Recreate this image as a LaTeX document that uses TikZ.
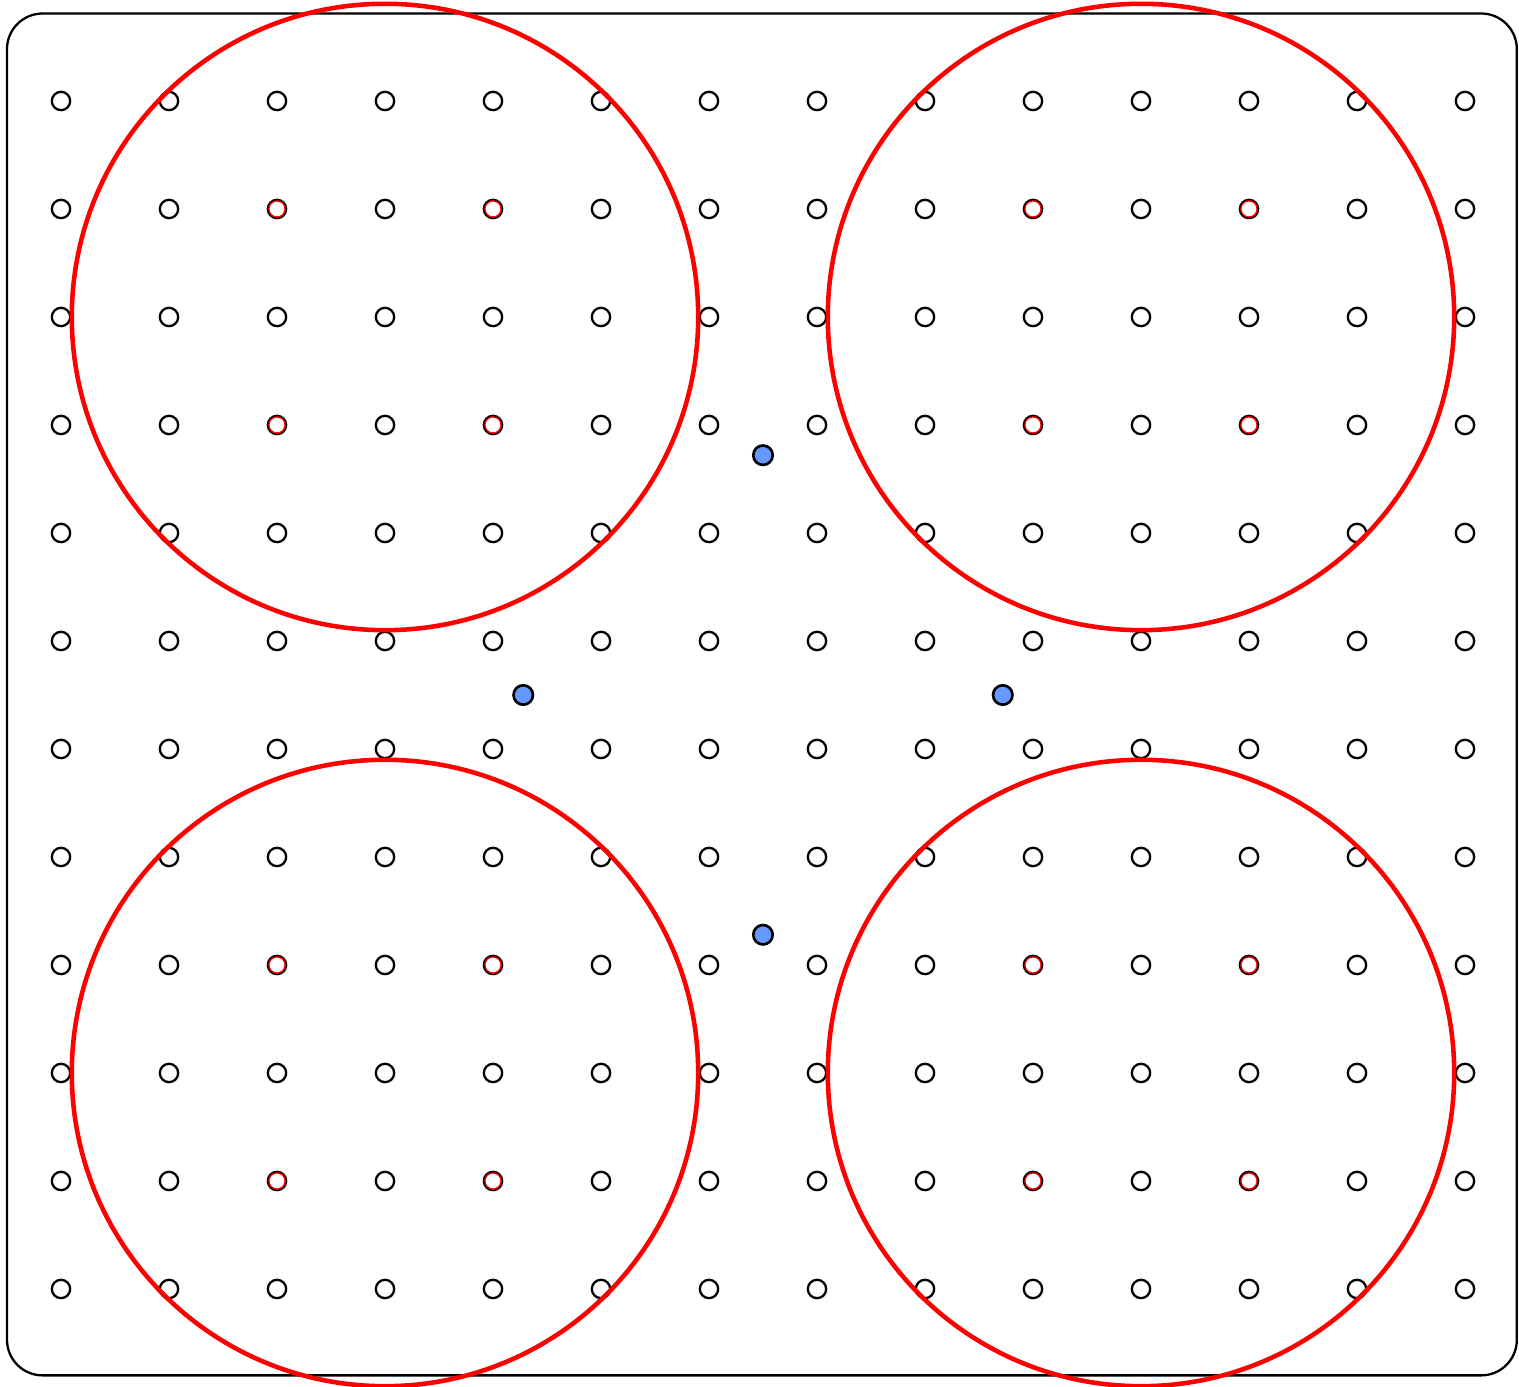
\documentclass[tikz,border=0pt]{standalone}
\usepackage{tikz}
\usetikzlibrary{calc}
\definecolor{pinblue}{RGB}{102,153,255}

\tikzset{
    hole/.style={draw, circle, line width=0.6pt, minimum size=0.17cm, inner sep=0pt},
    redhole/.style={hole, draw=red, line width=0.35pt, minimum size=0.15cm},
    pin/.style={draw, circle, fill=pinblue, line width=0.7pt, minimum size=0.18cm, inner sep=0pt},
    ring/.style={draw=red, line width=1.2pt}
}

\begin{document}
\begin{tikzpicture}
\useasboundingbox (-0.5648,-0.9074) rectangle (13.5,11.9352);

% board
\draw[line width=0.6pt, rounded corners=0.33cm] (-0.5,-0.8) rectangle (13.48,11.81);

% grid of holes
\foreach \i in {0,...,13}
    \foreach \j in {0,...,11}
        \node[hole] (h-\i-\j) at (\i,\j) {};

% marked holes
\foreach \cx/\cy in {3/9, 10/9, 3/2, 10/2}
    \foreach \dx/\dy in {-1/-1, -1/1, 1/-1, 1/1}
        \node[redhole] at ($(\cx,\cy)+(\dx,\dy)$) {};

% rings
\foreach \cx/\cy in {3/9, 10/9, 3/2, 10/2}
    \draw[ring] (\cx,\cy) circle (2.9);

% pins
\node[pin] (pin-n) at (6.5,7.72) {};
\node[pin] (pin-w) at (4.28,5.5) {};
\node[pin] (pin-e) at (8.72,5.5) {};
\node[pin] (pin-s) at (6.5,3.28) {};
\end{tikzpicture}
\end{document}
